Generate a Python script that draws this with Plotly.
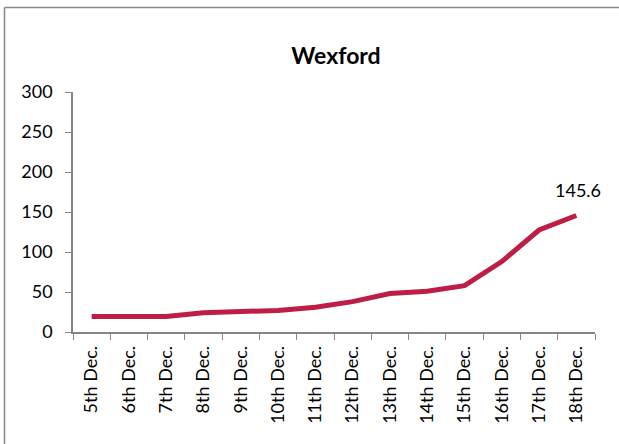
import plotly.graph_objects as go

categories = ["5th Dec.", "6th Dec.", "7th Dec.", "8th Dec.", "9th Dec.", "10th Dec.", "11th Dec.",
              "12th Dec.", "13th Dec.", "14th Dec.", "15th Dec.", "16th Dec.", "17th Dec.", "18th Dec."]
values = [19.5, 20, 19.5, 24, 25, 27, 31, 38, 48, 51, 58, 88, 127.5, 145.6]
title_text = "Wexford"
y_ticks = [0, 50, 100, 150, 200, 250, 300]

FONT = "Lato, Carlito, Calibri, sans-serif"
AXIS_COLOR = "#868686"
LINE_COLOR = "#BE1E45"

fig = go.Figure()
fig.add_trace(go.Scatter(
    x=categories, y=values, mode="lines",
    line=dict(color=LINE_COLOR, width=5),
    hoverinfo="x+y", showlegend=False,
))
fig.add_annotation(
    x=categories[-1], y=values[-1], text=f"{values[-1]}",
    showarrow=False, yshift=26, xshift=2,
    font=dict(family=FONT, size=18, color="black"),
)

fig.update_layout(
    width=619, height=444,
    margin=dict(l=73, r=24, t=92, b=112),
    paper_bgcolor="white", plot_bgcolor="white",
    title=dict(text=f"<b>{title_text}</b>", x=336 / 619, xanchor="center",
               y=1 - 56 / 444, yanchor="middle",
               font=dict(family=FONT, size=23, color="black")),
    font=dict(family=FONT, size=18, color="black"),
    xaxis=dict(
        type="category", range=[-0.5, len(categories) - 0.5],
        tickson="boundaries", ticks="outside", ticklen=6, tickcolor=AXIS_COLOR,
        showline=True, linecolor=AXIS_COLOR, linewidth=1.5,
        showgrid=False, tickangle=-90, zeroline=False, ticklabelstandoff=5,
        tickfont=dict(family=FONT, size=18, color="black"),
    ),
    yaxis=dict(
        range=[0, 300], tickvals=y_ticks, ticks="outside", ticklen=6, tickcolor=AXIS_COLOR,
        showline=True, linecolor=AXIS_COLOR, linewidth=1.5,
        showgrid=False, zeroline=False, ticklabelstandoff=9,
        tickfont=dict(family=FONT, size=18, color="black"),
    ),
)

# outer chart frame: only left and top edges are visible in the image
pw, ph = 619 - 73 - 24, 444 - 92 - 112
fx0 = (4.5 - 73) / pw
fx1 = (619 - 73) / pw + 0.05
fy1 = 1 + (92 - 7.5) / ph
fy0 = -(444 - 332) / ph - 0.05
frame_style = dict(color=AXIS_COLOR, width=1.5)
fig.add_shape(type="line", xref="paper", yref="paper",
              x0=fx0, x1=fx0, y0=fy0, y1=fy1, line=frame_style, layer="below")
fig.add_shape(type="line", xref="paper", yref="paper",
              x0=fx0, x1=fx1, y0=fy1, y1=fy1, line=frame_style, layer="below")

fig.write_html("out.html", config={"displayModeBar": False},
               post_script="document.body.style.margin='0px';")
